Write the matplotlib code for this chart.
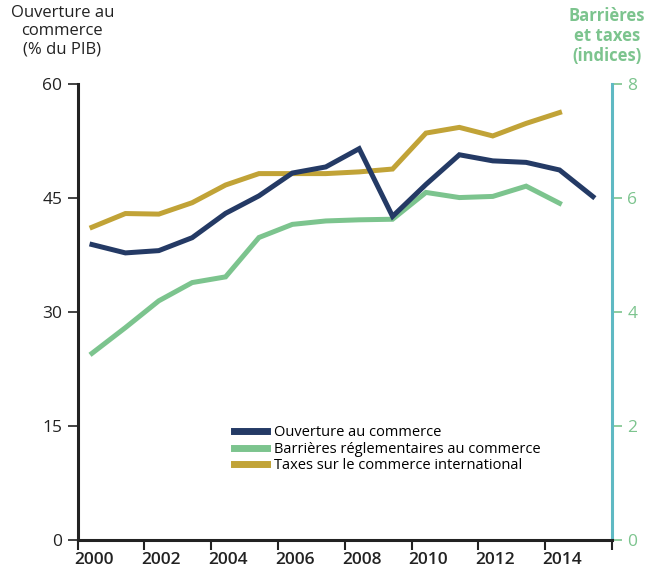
import numpy as np
import matplotlib
matplotlib.use("Agg")
import matplotlib.pyplot as plt
import matplotlib.transforms as mtransforms

plt.rcParams['font.family'] = ['Open Sans', 'DejaVu Sans']

# Donnees
years = list(range(2000, 2016))
ouverture = [38.9, 37.8, 38.1, 39.8, 43.0, 45.3, 48.3, 49.1, 51.5,
             42.6, 46.8, 50.7, 49.9, 49.7, 48.7, 45.2]
barrieres = [3.28, 3.73, 4.20, 4.52, 4.62, 5.31, 5.54, 5.60, 5.62,
             5.63, 6.10, 6.01, 6.03, 6.21, 5.91]
taxes = [5.49, 5.73, 5.72, 5.92, 6.23, 6.43, 6.43, 6.43, 6.46,
         6.51, 7.14, 7.24, 7.09, 7.31, 7.50]

navy = '#243a65'
green = '#7cc48e'
gold = '#c1a337'
teal = '#5fb9c3'
dark = '#222222'

x = np.array(years) + 0.43

fig = plt.figure(figsize=(6.48, 5.70), dpi=100)
ax = fig.add_axes([0.1198, 0.0518, 0.8246, 0.8008])
ax2 = ax.twinx()

l1, = ax.plot(x, ouverture, color=navy, lw=3.6, solid_joinstyle='miter', zorder=3)
l2, = ax2.plot(x[:len(barrieres)], barrieres, color=green, lw=3.6, solid_joinstyle='miter')
l3, = ax2.plot(x[:len(taxes)], taxes, color=gold, lw=3.6, solid_joinstyle='miter')
ax.set_zorder(ax2.get_zorder() + 1)
ax.patch.set_visible(False)

ax.set_xlim(2000, 2016)
ax.set_ylim(0, 60)
ax2.set_ylim(0, 8)
ax.set_yticks([0, 15, 30, 45, 60])
ax.set_xticks(range(2000, 2017, 2))
ax.set_xticklabels([str(y) for y in range(2000, 2015, 2)] + [''])
ax2.set_yticks(range(0, 9, 2))

for s in ['top', 'right']:
    ax.spines[s].set_visible(False)
for s in ['top', 'left', 'bottom']:
    ax2.spines[s].set_visible(False)
ax.spines['left'].set_linewidth(2.2)
ax.spines['left'].set_color(dark)
ax.spines['bottom'].set_linewidth(2.2)
ax.spines['bottom'].set_color(dark)
ax2.spines['right'].set_linewidth(2.2)
ax2.spines['right'].set_color(teal)

ax.tick_params(axis='y', direction='out', length=7, width=1.2, colors=dark,
               labelsize=12.5, pad=4)
ax.tick_params(axis='x', direction='out', length=7, width=1.5, colors=dark,
               labelsize=12.5, pad=1)
# labels des annees alignes a gauche sur les graduations
shift = mtransforms.ScaledTranslation(-3 / 100, 0, fig.dpi_scale_trans)
for t in ax.get_xticklabels():
    t.set_fontweight('semibold')
    t.set_horizontalalignment('left')
    t.set_transform(t.get_transform() + shift)
ax2.tick_params(axis='y', direction='out', length=7, width=1.2, colors=green,
                labelsize=12.5, pad=4)

fig.text(0.096, 0.992, 'Ouverture au\ncommerce\n(% du PIB)', ha='center', va='top',
         fontsize=12, color=dark, linespacing=1.2)
fig.text(0.937, 0.988, 'Barrières\net taxes\n(indices)', ha='center', va='top',
         fontsize=12, color=green, fontweight='bold', linespacing=1.15)

ax.legend([l1, l2, l3],
          ['Ouverture au commerce', 'Barrières réglementaires au commerce',
           'Taxes sur le commerce international'],
          loc='upper left', bbox_to_anchor=(0.281, 0.265), frameon=False,
          fontsize=10.5, handlelength=2.3, handletextpad=0.45, labelspacing=0.1,
          borderaxespad=0)
for h in ax.get_legend().get_lines():
    h.set_linewidth(5)

fig.savefig('out.png', dpi=100)
